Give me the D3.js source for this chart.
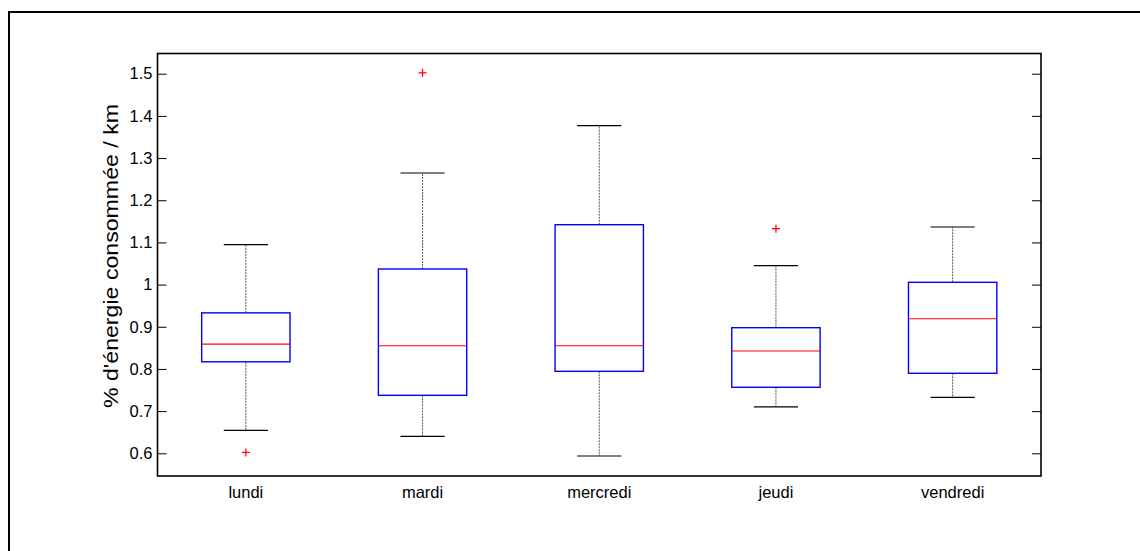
<!DOCTYPE html>
<html><head><meta charset="utf-8">
<script src="https://cdn.jsdelivr.net/npm/d3@7"></script>
<style>body{margin:0;background:#fff;} svg{display:block;font-family:Arial,"Liberation Sans",sans-serif;}</style>
</head><body>
<script>
const categories = ["lundi","mardi","mercredi","jeudi","vendredi"];
const whiskerLow  = [0.6545, 0.640, 0.5936, 0.710, 0.7328];
const q1          = [0.817, 0.7375, 0.7944, 0.7565, 0.7897];
const median      = [0.859, 0.855, 0.855, 0.8426, 0.919];
const q3          = [0.933, 1.037, 1.142, 0.8978, 1.0054];
const whiskerHigh = [1.0946, 1.2646, 1.3767, 1.0448, 1.1366];
const outliers    = [[0.602],[1.502],[],[1.1325],[]];
const yTicks = [0.6,0.7,0.8,0.9,1.0,1.1,1.2,1.3,1.4,1.5];
const yTickLabels = ["0.6","0.7","0.8","0.9","1","1.1","1.2","1.3","1.4","1.5"];
const yLabel = "% d'énergie consommée / km";

const W=1140,H=551;
const L=157.5,R=1041,T=53.5,B=476;
const svg=d3.select("body").append("svg").attr("width",W).attr("height",H);
// outer frame
svg.append("path").attr("d",`M9,${H+5}V12H${W+5}`).attr("fill","none").attr("stroke","#000").attr("stroke-width",2);

const x=d3.scaleBand().domain(categories).range([L,R]).padding(0);
const y=d3.scaleLinear().domain([0.5462,1.5479]).range([B,T]);
const bw=x.bandwidth()*0.5, cw=bw*0.5;

const g=svg.append("g");
// axes
const yl=d3.axisLeft(y).tickValues(yTicks).tickFormat((d,i)=>yTickLabels[i]).tickSizeInner(-9).tickSizeOuter(0).tickPadding(4);
const ya=g.append("g").attr("transform",`translate(${L},0)`).call(yl);
const yr=d3.axisRight(y).tickValues(yTicks).tickFormat("").tickSizeInner(-9).tickSizeOuter(0);
const yb=g.append("g").attr("transform",`translate(${R},0)`).call(yr);
[ya,yb].forEach(a=>{a.select(".domain").remove();a.selectAll("line").attr("stroke","#000").attr("stroke-width",1);});
ya.selectAll("text").attr("font-size",16.5).attr("fill","#000").attr("font-family","Arial,'Liberation Sans',sans-serif").attr("dx",-1);
const xa=g.append("g").attr("transform",`translate(0,${B})`).call(d3.axisBottom(x).tickSize(0).tickPadding(10));
xa.select(".domain").remove();
xa.selectAll("text").attr("font-size",16.5).attr("fill","#000").attr("font-family","Arial,'Liberation Sans',sans-serif");
g.append("rect").attr("x",L).attr("y",T).attr("width",R-L).attr("height",B-T).attr("fill","none").attr("stroke","#000").attr("stroke-width",1.6);

// boxes
categories.forEach((c,i)=>{
  const cx=x(c)+x.bandwidth()/2;
  const bg=g.append("g");
  bg.append("line").attr("x1",cx).attr("x2",cx).attr("y1",y(q3[i])).attr("y2",y(whiskerHigh[i])).attr("stroke","#555").attr("stroke-width",1).attr("stroke-dasharray","2,1");
  bg.append("line").attr("x1",cx).attr("x2",cx).attr("y1",y(q1[i])).attr("y2",y(whiskerLow[i])).attr("stroke","#555").attr("stroke-width",1).attr("stroke-dasharray","2,1");
  [whiskerHigh[i],whiskerLow[i]].forEach(v=>{
    bg.append("line").attr("x1",cx-cw/2).attr("x2",cx+cw/2).attr("y1",y(v)).attr("y2",y(v)).attr("stroke","#000").attr("stroke-width",1.2);
  });
  bg.append("rect").attr("x",cx-bw/2).attr("y",y(q3[i])).attr("width",bw).attr("height",y(q1[i])-y(q3[i])).attr("fill","none").attr("stroke","#00f").attr("stroke-width",1.4);
  bg.append("line").attr("x1",cx-bw/2).attr("x2",cx+bw/2).attr("y1",y(median[i])).attr("y2",y(median[i])).attr("stroke","#f00").attr("stroke-width",1.2);
  outliers[i].forEach(v=>{
    const py=y(v);
    bg.append("path").attr("d",`M${cx-4},${py}H${cx+4}M${cx},${py-4}V${py+4}`).attr("stroke","#f00").attr("stroke-width",1.2).attr("fill","none");
  });
});

svg.append("text").attr("transform",`translate(118,256) rotate(-90)`).attr("text-anchor","middle")
  .attr("font-size",20).attr("fill","#000").attr("textLength",304).attr("lengthAdjust","spacingAndGlyphs").text(yLabel);
</script>
</body></html>
